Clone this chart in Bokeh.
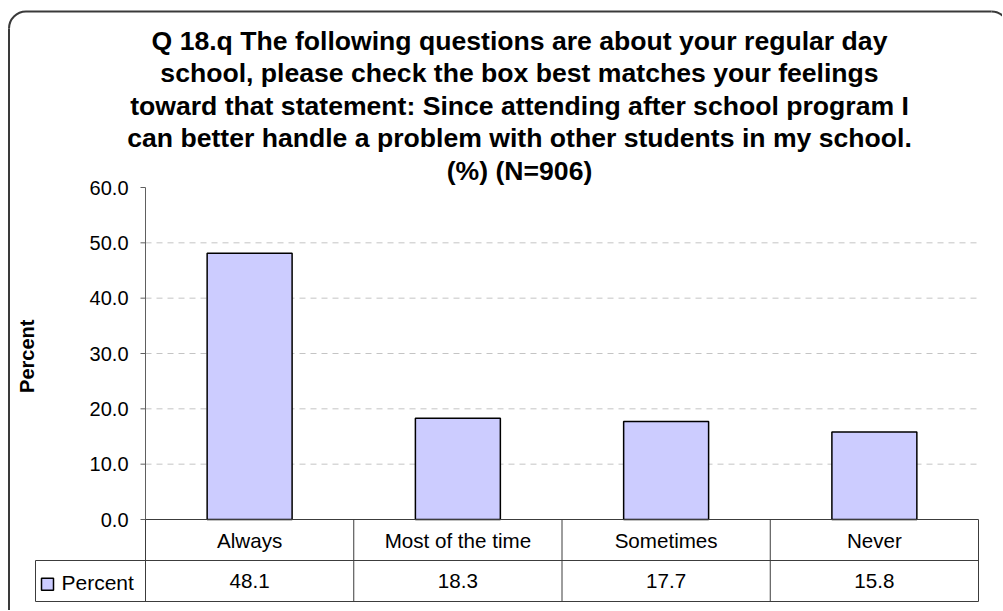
import math
from bokeh.plotting import figure
from bokeh.models import Range1d, ColumnDataSource
from bokeh.core.properties import value
from bokeh.embed import file_html
from bokeh.resources import INLINE

# ---------------- data ----------------
categories = ["Always", "Most of the time", "Sometimes", "Never"]
percent = [48.1, 18.3, 17.7, 15.8]
series_name = "Percent"
y_ticks = [0, 10, 20, 30, 40, 50, 60]
title_lines = [
    "Q 18.q The following questions are about your regular day",
    "school, please check the box best matches your feelings",
    "toward that statement: Since attending after school program I",
    "can better handle a problem with other students in my school.",
    "(%) (N=906)",
]

# ---------------- layout (page pixels) ----------------
FONT = value("Liberation Sans")
W, H = 1002, 610
CAT_L, CAT_R = 145, 978          # left / right edge of the category area
ZERO_Y, TOP_Y = 519, 187         # pixel rows of y = 0 and y = 60
ROW_PX = 41                      # height of one data-table row
LEG_L = 35                       # left edge of the legend cell
ncat = len(categories)
cat_w = (CAT_R - CAT_L) / ncat
ppu = (ZERO_Y - TOP_Y) / (y_ticks[-1] - y_ticks[0])


def X(px):
    return (px - CAT_L) / cat_w


def Y(py):
    return (ZERO_Y - py) / ppu


row = ROW_PX / ppu

p = figure(width=W, height=H, output_backend="svg", toolbar_location=None,
           x_range=Range1d(X(0), X(W)), y_range=Range1d(Y(H), Y(0)),
           x_axis_location=None, y_axis_location=None,
           min_border_left=0, min_border_right=0, min_border_top=0, min_border_bottom=0)
p.grid.visible = False
p.outline_line_color = None
p.background_fill_color = "white"
p.border_fill_color = "white"

# ---------- rounded outer frame ----------
R = 17
BL, BT, BR = 8.5, 11, 1008
ln = dict(line_color="#3a3a3a", line_width=2)
p.segment(x0=[X(BL + R)], y0=[Y(BT)], x1=[X(BR - R)], y1=[Y(BT)], **ln)
p.segment(x0=[X(BL)], y0=[Y(BT + R)], x1=[X(BL)], y1=[Y(H + 20)], **ln)
p.arc(x=[X(BL + R)], y=[Y(BT + R)], radius=R, radius_units="screen",
      start_angle=math.pi / 2, end_angle=math.pi, **ln)
p.arc(x=[X(BR - R)], y=[Y(BT + R)], radius=R, radius_units="screen",
      start_angle=0, end_angle=math.pi / 2, **ln)

# ---------- title ----------
TITLE_CX, TITLE_Y0, TITLE_DY = 519, 40, 32.5
p.text(x=[X(TITLE_CX)] * len(title_lines),
       y=[Y(TITLE_Y0 + i * TITLE_DY) for i in range(len(title_lines))],
       text=title_lines, text_align="center", text_baseline="middle",
       text_font=FONT, text_font_size="26.6px", text_font_style="bold",
       text_color="black")

# ---------- grid ----------
grid_vals = y_ticks[1:-1]
p.segment(x0=[0] * len(grid_vals), y0=grid_vals, x1=[ncat] * len(grid_vals), y1=grid_vals,
          line_color="#C4C4C4", line_width=1, line_dash="6 5")

# ---------- y axis ----------
p.segment(x0=[0], y0=[y_ticks[0]], x1=[0], y1=[y_ticks[-1]], line_color="#606060", line_width=1)
p.segment(x0=[X(CAT_L - 5)] * len(y_ticks), y0=y_ticks, x1=[0] * len(y_ticks), y1=y_ticks,
          line_color="#606060", line_width=1)
p.text(x=[X(CAT_L - 17)] * len(y_ticks), y=y_ticks, text=["%.1f" % t for t in y_ticks],
       text_align="right", text_baseline="middle", text_font=FONT,
       text_font_size="20px", text_color="black")
p.text(x=[X(26)], y=[(y_ticks[0] + y_ticks[-1]) / 2 - 0.5], text=[series_name],
       angle=math.pi / 2, text_align="center", text_baseline="middle",
       text_font=FONT, text_font_size="20px", text_font_style="bold", text_color="black")

# ---------- bars ----------
xs = [i + 0.5 for i in range(ncat)]
src = ColumnDataSource(dict(x=xs, top=percent, cat=categories))
p.vbar(x="x", top="top", bottom=0, width=0.408, source=src,
       fill_color="#CCCCFF", line_color="black", line_width=1.5)

# ---------- data table ----------
tl = dict(line_color="#3c3c3c", line_width=1)
p.segment(x0=[0, X(LEG_L), X(LEG_L)], y0=[0, -row, -2 * row],
          x1=[ncat, ncat, ncat], y1=[0, -row, -2 * row], **tl)
vx = list(range(ncat + 1))
p.segment(x0=vx, y0=[0] * len(vx), x1=vx, y1=[-2 * row] * len(vx), **tl)
p.segment(x0=[X(LEG_L)], y0=[-row], x1=[X(LEG_L)], y1=[-2 * row], **tl)

p.text(x=xs, y=[-row / 2] * ncat, text=categories, text_align="center",
       text_baseline="middle", text_font_size="20.6px", text_color="black", text_font=FONT)
p.text(x=xs, y=[-1.5 * row] * ncat, text=["%.1f" % v for v in percent],
       text_align="center", text_baseline="middle", text_font_size="20.6px",
       text_color="black", text_font=FONT)

# legend key inside the first table column
p.scatter(x=[X(47)], y=[-1.5 * row - 0.6], marker="square", size=12,
          fill_color="#CCCCFF", line_color="black", line_width=1.5)
p.text(x=[X(61)], y=[-1.5 * row - 0.3], text=[series_name], text_align="left",
       text_baseline="middle", text_font_size="21px", text_color="black", text_font=FONT)

open("out.html", "w").write(file_html(p, INLINE))
